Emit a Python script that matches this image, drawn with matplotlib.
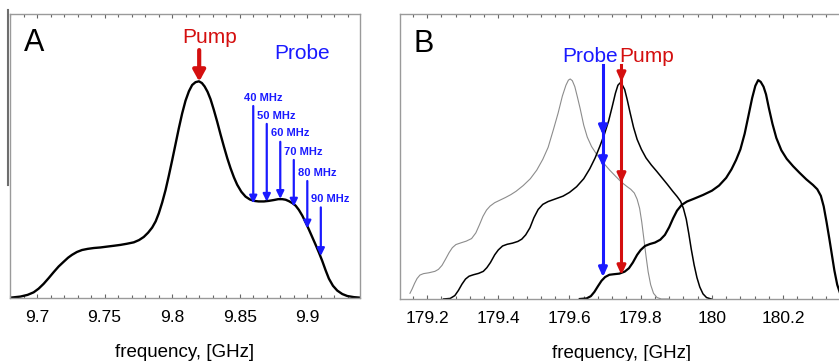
import matplotlib
matplotlib.use("Agg")
import matplotlib.pyplot as plt
from matplotlib.lines import Line2D
from matplotlib.ticker import MultipleLocator

plt.rcParams['font.family'] = ['Liberation Sans', 'DejaVu Sans']

# ---------------- Panel A data ----------------
a_freq = [9.6802, 9.6877, 9.6930, 9.6975, 9.7012, 9.7049, 9.7086, 9.7123, 9.7160,
          9.7198, 9.7230, 9.7259, 9.7295, 9.7333, 9.7375, 9.7420, 9.7470, 9.7519,
          9.7570, 9.7617, 9.7665, 9.7716, 9.7755, 9.7790, 9.7822, 9.7852, 9.7878,
          9.7901, 9.7926, 9.7951, 9.7975, 9.8000, 9.8025, 9.8049, 9.8074, 9.8099,
          9.8124, 9.8148, 9.8173, 9.8198, 9.8220, 9.8240, 9.8262, 9.8284, 9.8308,
          9.8333, 9.8358, 9.8383, 9.8408, 9.8432, 9.8457, 9.8481, 9.8512, 9.8543,
          9.8575, 9.8605, 9.8640, 9.8679, 9.8715, 9.8753, 9.8785, 9.8815, 9.8840,
          9.8864, 9.8890, 9.8914, 9.8938, 9.8963, 9.8988, 9.9012, 9.9037, 9.9062,
          9.9086, 9.9111, 9.9136, 9.9160, 9.9190, 9.9222, 9.9259, 9.9296, 9.9345,
          9.9395]
a_sig = [0.001, 0.005, 0.011, 0.020, 0.033, 0.050, 0.070, 0.091, 0.111,
         0.128, 0.142, 0.152, 0.162, 0.169, 0.173, 0.176, 0.178, 0.181,
         0.184, 0.187, 0.191, 0.196, 0.204, 0.215, 0.230, 0.248, 0.270,
         0.298, 0.336, 0.380, 0.430, 0.485, 0.542, 0.597, 0.650, 0.695,
         0.728, 0.750, 0.760, 0.763, 0.757, 0.745, 0.726, 0.700, 0.663,
         0.621, 0.576, 0.533, 0.492, 0.457, 0.425, 0.399, 0.374, 0.357,
         0.347, 0.342, 0.340, 0.340, 0.342, 0.345, 0.348, 0.348, 0.346,
         0.341, 0.334, 0.325, 0.310, 0.290, 0.266, 0.241, 0.214, 0.187,
         0.160, 0.130, 0.097, 0.068, 0.043, 0.026, 0.014, 0.007, 0.003,
         0.001]
a_pump_freq = 9.82
a_pump_from, a_pump_to = 0.873, 0.762
a_probe_freq = [9.86, 9.87, 9.88, 9.89, 9.90, 9.91]
a_probe_labels = ["40 MHz", "50 MHz", "60 MHz", "70 MHz", "80 MHz", "90 MHz"]
a_probe_from = [0.676, 0.613, 0.550, 0.486, 0.412, 0.319]
a_probe_to = [0.333, 0.339, 0.349, 0.322, 0.245, 0.148]
a_ticks = [9.7, 9.75, 9.8, 9.85, 9.9]
a_ticklabels = ["9.7", "9.75", "9.8", "9.85", "9.9"]

# ---------------- Panel B data ----------------
b_gray_f = [179.152, 179.158, 179.165, 179.172, 179.180, 179.190, 179.205, 179.222,
            179.232, 179.242, 179.252, 179.262, 179.271, 179.281, 179.295, 179.310,
            179.325, 179.337, 179.347, 179.357, 179.367, 179.377, 179.390, 179.405,
            179.420, 179.435, 179.450, 179.470, 179.490, 179.508, 179.525, 179.540,
            179.555, 179.568, 179.580, 179.590, 179.597, 179.602, 179.608, 179.615,
            179.622, 179.630, 179.640, 179.650, 179.662, 179.675, 179.690, 179.713,
            179.730, 179.746, 179.760, 179.772, 179.782, 179.790, 179.797, 179.803,
            179.809, 179.815, 179.821, 179.828, 179.836, 179.846, 179.858, 179.880]
b_gray_s = [0.020, 0.035, 0.055, 0.072, 0.084, 0.089, 0.092, 0.097,
            0.104, 0.118, 0.140, 0.163, 0.180, 0.191, 0.197, 0.203,
            0.212, 0.232, 0.260, 0.290, 0.312, 0.326, 0.338, 0.347,
            0.356, 0.366, 0.378, 0.398, 0.422, 0.452, 0.490, 0.532,
            0.595, 0.652, 0.712, 0.750, 0.768, 0.772, 0.766, 0.745,
            0.710, 0.668, 0.610, 0.568, 0.535, 0.510, 0.485, 0.452,
            0.430, 0.410, 0.396, 0.385, 0.372, 0.350, 0.318, 0.270,
            0.210, 0.150, 0.095, 0.050, 0.020, 0.005, 0.0, 0.0]
b_mid_f = [179.246, 179.265, 179.278, 179.288, 179.298, 179.308, 179.318, 179.330,
           179.345, 179.358, 179.368, 179.378, 179.390, 179.400, 179.412, 179.425,
           179.440, 179.455, 179.466, 179.477, 179.489, 179.500, 179.512, 179.525,
           179.540, 179.560, 179.582, 179.600, 179.620, 179.640, 179.657, 179.672,
           179.685, 179.698, 179.710, 179.720, 179.729, 179.736, 179.742, 179.748,
           179.755, 179.762, 179.770, 179.780, 179.790, 179.802, 179.815, 179.830,
           179.845, 179.860, 179.875, 179.890, 179.902, 179.912, 179.920, 179.928,
           179.935, 179.942, 179.950, 179.958, 179.966, 179.975, 179.985, 179.998]
b_mid_s = [0.0, 0.002, 0.012, 0.030, 0.052, 0.070, 0.080, 0.085,
           0.090, 0.097, 0.110, 0.128, 0.155, 0.172, 0.186, 0.192,
           0.196, 0.202, 0.210, 0.225, 0.250, 0.285, 0.314, 0.332,
           0.342, 0.351, 0.361, 0.374, 0.394, 0.422, 0.457, 0.495,
           0.535, 0.578, 0.625, 0.675, 0.722, 0.750, 0.758, 0.752,
           0.735, 0.700, 0.655, 0.602, 0.560, 0.525, 0.495, 0.470,
           0.448, 0.425, 0.402, 0.378, 0.360, 0.343, 0.318, 0.280,
           0.230, 0.175, 0.120, 0.075, 0.042, 0.018, 0.005, 0.0]
b_thick_f = [179.629, 179.648, 179.660, 179.670, 179.680, 179.690, 179.700, 179.712,
             179.725, 179.740, 179.755, 179.767, 179.778, 179.790, 179.800, 179.812,
             179.826, 179.840, 179.855, 179.868, 179.880, 179.891, 179.902, 179.915,
             179.930, 179.950, 179.975, 180.000, 180.020, 180.040, 180.055, 180.068,
             180.080, 180.092, 180.103, 180.113, 180.122, 180.130, 180.137, 180.145,
             180.152, 180.160, 180.170, 180.181, 180.195, 180.210, 180.228, 180.246,
             180.265, 180.284, 180.296, 180.306, 180.314, 180.322, 180.330, 180.337,
             180.344, 180.352, 180.360, 180.370, 180.390]
b_thick_s = [0.0, 0.002, 0.010, 0.025, 0.045, 0.064, 0.077, 0.085,
             0.087, 0.089, 0.096, 0.108, 0.128, 0.155, 0.172, 0.186,
             0.193, 0.198, 0.208, 0.225, 0.252, 0.283, 0.310, 0.330,
             0.342, 0.352, 0.365, 0.380, 0.398, 0.425, 0.455, 0.488,
             0.525, 0.580, 0.645, 0.705, 0.748, 0.768, 0.762, 0.745,
             0.718, 0.670, 0.615, 0.565, 0.522, 0.492, 0.466, 0.443,
             0.420, 0.400, 0.385, 0.362, 0.325, 0.270, 0.210, 0.155,
             0.100, 0.050, 0.020, 0.005, 0.0]
b_probe_freq = 179.694
b_probe_top = 0.821
b_probe_heads = [0.575, 0.463, 0.077]
b_pump_freq = 179.746
b_pump_top = 0.821
b_pump_heads = [0.761, 0.407, 0.084]
b_ticks = [179.2, 179.4, 179.6, 179.8, 180.0, 180.2]
b_ticklabels = ["179.2", "179.4", "179.6", "179.8", "180", "180.2"]

RED = '#d40f0f'
BLUE = '#1a1aff'
SPINE = '#9a9a9a'

W, H = 839, 361
fig = plt.figure(figsize=(W / 100, H / 100), dpi=100)

axA = fig.add_axes([10 / W, (H - 298) / H, 350 / W, 284 / H])
axB = fig.add_axes([400 / W, (H - 299) / H, 444 / W, 285 / H])

def style(ax, minor, ticks, labels):
    for s in ax.spines.values():
        s.set_color(SPINE)
        s.set_linewidth(1.0)
    ax.set_yticks([])
    ax.set_xticks(ticks)
    ax.set_xticklabels(labels, fontsize=12.5)
    ax.xaxis.set_minor_locator(MultipleLocator(minor))
    ax.tick_params(axis='x', which='both', direction='in', top=True, bottom=True,
                   color='#666666', width=0.8, pad=8.5)
    ax.tick_params(axis='x', which='major', length=3)
    ax.tick_params(axis='x', which='minor', length=2.5)
    ax.set_ylim(0, 1)
    ax.set_xlabel("frequency, [GHz]", fontsize=13.5, labelpad=14)

# Panel A
axA.plot(a_freq, a_sig, color='black', lw=1.7, solid_joinstyle='round')
axA.set_xlim(9.68, 9.939)
style(axA, 0.01, a_ticks, a_ticklabels)
axA.annotate('', xy=(a_pump_freq, a_pump_to), xytext=(a_pump_freq, a_pump_from),
             arrowprops=dict(arrowstyle='-|>,head_length=0.65,head_width=0.36',
                             color=RED, lw=3.0, shrinkA=0, shrinkB=0))
for f, lab, y0, y1 in zip(a_probe_freq, a_probe_labels, a_probe_from, a_probe_to):
    axA.annotate('', xy=(f, y1), xytext=(f, y0),
                 arrowprops=dict(arrowstyle='-|>,head_length=0.45,head_width=0.22',
                                 color=BLUE, lw=1.6, shrinkA=0, shrinkB=0))
    axA.annotate(lab, xy=(f, y0), xytext=(-7, 6), textcoords='offset points',
                 ha='left', va='center', color=BLUE, fontsize=8, fontweight='bold')
axA.text(9.8274, 0.898, "Pump", color=RED, fontsize=15, ha='center', va='baseline')
axA.text(9.8963, 0.842, "Probe", color=BLUE, fontsize=15, ha='center', va='baseline')
axA.text(0.04, 0.87, "A", transform=axA.transAxes, fontsize=22, ha='left', va='baseline')

# Panel B
axB.plot(b_gray_f, b_gray_s, color='#8c8c8c', lw=0.8, solid_joinstyle='round')
axB.plot(b_mid_f, b_mid_s, color='black', lw=1.1, solid_joinstyle='round')
axB.plot(b_thick_f, b_thick_s, color='black', lw=1.6, solid_joinstyle='round')
axB.set_xlim(179.124, 180.371)
style(axB, 0.04, b_ticks, b_ticklabels)
axB.spines['right'].set_visible(False)

axB.plot([b_probe_freq, b_probe_freq], [b_probe_top, min(b_probe_heads) + 0.02],
         color=BLUE, lw=2.2)
for y in b_probe_heads:
    axB.annotate('', xy=(b_probe_freq, y), xytext=(0, 9), textcoords='offset points',
                 arrowprops=dict(arrowstyle='-|>,head_length=0.55,head_width=0.25',
                                 color=BLUE, lw=2.2, shrinkA=0, shrinkB=0))
axB.plot([b_pump_freq, b_pump_freq], [b_pump_top, min(b_pump_heads) + 0.02],
         color=RED, lw=2.2)
for y in b_pump_heads:
    axB.annotate('', xy=(b_pump_freq, y), xytext=(0, 9), textcoords='offset points',
                 arrowprops=dict(arrowstyle='-|>,head_length=0.55,head_width=0.25',
                                 color=RED, lw=2.2, shrinkA=0, shrinkB=0))
axB.text(179.7357, 0.832, "Probe", color=BLUE, fontsize=15, ha='right', va='baseline')
axB.text(179.741, 0.832, "Pump", color=RED, fontsize=15, ha='left', va='baseline')
axB.text(0.0315, 0.867, "B", transform=axB.transAxes, fontsize=22, ha='left', va='baseline')

# stray vertical bar at the left edge of the original figure
fig.add_artist(Line2D([7.5 / W, 7.5 / W], [1 - 10 / H, 1 - 185 / H],
                      color='#6e6e6e', lw=1.5, transform=fig.transFigure))

fig.savefig("out.png", dpi=100)
